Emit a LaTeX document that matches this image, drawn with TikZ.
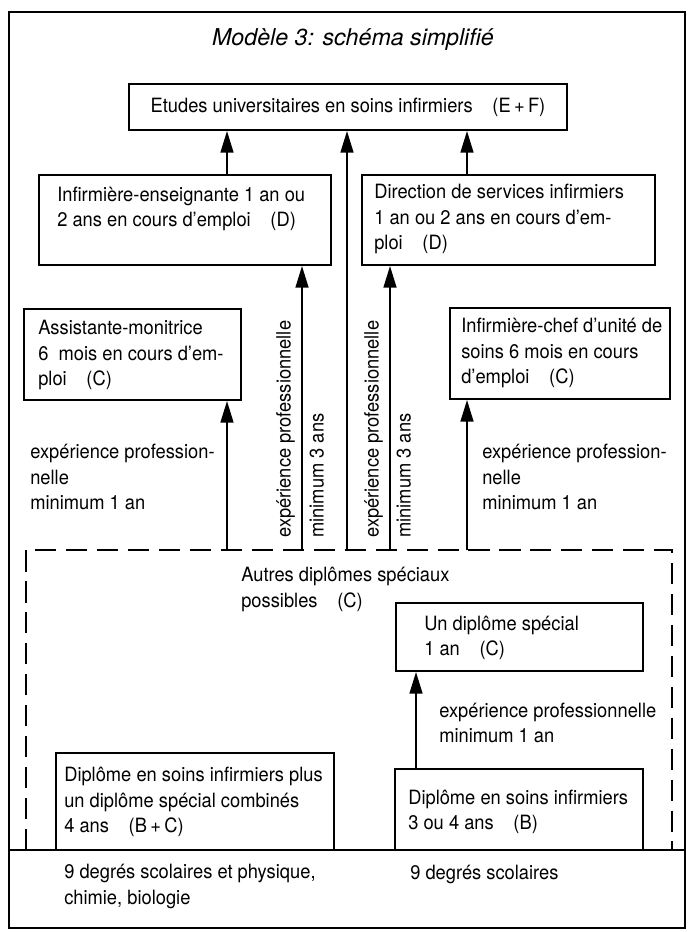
\documentclass[tikz,border=0pt]{standalone}
\usepackage{fontspec}
\setmainfont{TeX Gyre Heros}[FakeStretch=0.93]
\newfontfamily\titrefont{TeX Gyre Heros}
\usetikzlibrary{arrows.meta}

\begin{document}
\begin{tikzpicture}[x=0.025cm, y=-0.025cm,
    every node/.style={font=\fontsize{14}{18}\selectfont},
    box/.style={draw, line width=1.4pt, inner sep=0pt},
    txt/.style={align=left, inner sep=0pt, anchor=west},
    vtxt/.style={inner sep=0pt, rotate=90, anchor=base west},
    arr/.style={line width=1.4pt, -{Triangle[length=5.4mm, width=3.2mm]}}]
      \useasboundingbox (0,0) rectangle (693,932);
      \fill[white] (0,0) rectangle (693,932);
      \draw[line width=1.4pt] (9,12) rectangle (685,928);
      \draw[line width=1.4pt, dash pattern=on 15pt off 7pt] (26,850) -- (26,550) -- (672,550) -- (672,850);
      \draw[line width=1.4pt] (9,850) -- (685,850);

      \node[font=\titrefont\fontsize{16.5}{20}\itshape, inner sep=0pt] (Titre) at (353,39) {Modèle 3: schéma simplifié};

      \node[box, minimum width=10.95cm, minimum height=1.15cm] (Univ) at (348,107) {Etudes universitaires en soins infirmiers\quad(E\,+\,F)};
      \node[box, minimum width=7.3cm, minimum height=2.25cm] (Ens) at (185,220) {};
      \node[box, minimum width=7.325cm, minimum height=2.25cm] (Dir) at (508.5,220) {};
      \node[box, minimum width=5.425cm, minimum height=2.275cm] (Asst) at (132.5,354.5) {};
      \node[box, minimum width=5.5cm, minimum height=2.275cm] (Chef) at (560,353.5) {};
      \node[box, minimum width=6.175cm, minimum height=1.7cm] (Spec) at (519.5,637) {};
      \node[box, minimum width=6.95cm, minimum height=2.425cm] (Comb) at (195,801.5) {};
      \node[box, minimum width=6.2cm, minimum height=2.025cm] (Dipl) at (519,809.5) {};

      \node[txt] (EnsT) at (57,209) {Infirmière-enseignante 1 an ou\\2 ans en cours d'emploi\quad(D)};
      \node[txt] (DirT) at (374,219) {Direction de services infirmiers\\1 an ou 2 ans en cours d'em-\\ploi\quad(D)};
      \node[txt] (AsstT) at (38,355) {Assistante-monitrice\\6~ mois en cours d'em-\\ploi\quad(C)};
      \node[txt] (ChefT) at (461,353) {Infirmière-chef d'unité de\\soins 6 mois en cours\\d'emploi\quad(C)};
      \node[txt] (AutresT) at (241,589.5) {Autres diplômes spéciaux\\possibles\quad(C)};
      \node[txt] (SpecT) at (424,638) {Un diplôme spécial\\1 an\quad(C)};
      \node[txt] (CombT) at (64,802) {Diplôme en soins infirmiers plus\\un diplôme spécial combinés\\4 ans\quad(B\,+\,C)};
      \node[txt] (DiplT) at (408,812) {Diplôme en soins infirmiers\\3 ou 4 ans\quad(B)};
      \node[txt] (ExpG) at (30,477) {expérience profession-\\nelle\\minimum 1 an};
      \node[txt] (ExpD) at (482,477) {expérience profession-\\nelle\\minimum 1 an};
      \node[txt] (ExpS) at (439,723) {expérience professionnelle\\minimum 1 an};
      \node[txt] (Base1) at (64,886.5) {9 degrés scolaires et physique,\\chimie, biologie};
      \node[txt] (Base2) at (410,874) {9 degrés scolaires};

      \node[vtxt] (ProfA) at (290.5,538) {expérience professionnelle};
      \node[vtxt] (MinA) at (323.5,538) {minimum 3 ans};
      \node[vtxt] (ProfB) at (378.5,538) {expérience professionnelle};
      \node[vtxt] (MinB) at (410.5,538) {minimum 3 ans};

      \coordinate (a1) at (227,550);
      \coordinate (a2) at (302,550);
      \coordinate (a3) at (347,550);
      \coordinate (a4) at (390,550);
      \coordinate (a5) at (467,550);
      \coordinate (b1) at (416,769);

      \draw[arr] (a1) -- (a1 |- Asst.south);
      \draw[arr] (a2) -- (a2 |- Ens.south);
      \draw[arr] (a3) -- (a3 |- Univ.south);
      \draw[arr] (a4) -- (a4 |- Dir.south);
      \draw[arr] (a5) -- (a5 |- Chef.south);
      \draw[arr] (a1 |- Ens.north) -- (a1 |- Univ.south);
      \draw[arr] (a5 |- Dir.north) -- (a5 |- Univ.south);
      \draw[arr] (b1) -- (b1 |- Spec.south);
    \end{tikzpicture}
\end{document}
